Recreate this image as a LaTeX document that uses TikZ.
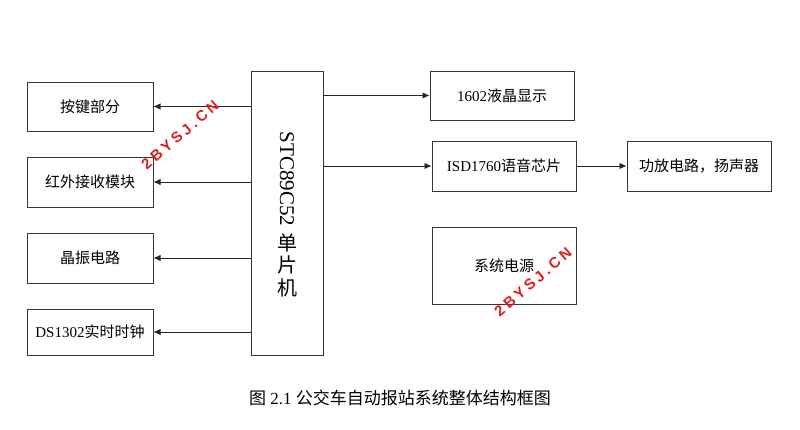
\documentclass[tikz,border=0pt]{standalone}
\usepackage{fontspec}
\setmainfont{Liberation Serif}
\newfontfamily\cjk{Noto Sans CJK SC}
\newfontfamily\wmfont[LetterSpace=22]{Liberation Sans}
\usetikzlibrary{arrows.meta}
\definecolor{boxline}{RGB}{55,55,55}
\definecolor{wmred}{RGB}{225,30,30}
\tikzset{
  blk/.style={draw=boxline,line width=1pt,rectangle,inner sep=0pt,font=\fontsize{15}{18}\selectfont},
  arr/.style={draw=black!85,line width=0.9pt,-{Latex[length=7pt,width=6.5pt]}},
  wm/.style={text=wmred,font=\wmfont\bfseries\fontsize{15}{18}\selectfont,rotate=41,inner sep=0pt}
}
\begin{document}
\begin{tikzpicture}[x=1pt,y=-1pt]
\useasboundingbox[fill=white] (0,0) rectangle (800,429);
% left blocks
\node[blk,minimum width=126pt,minimum height=49pt] (k1) at (90,106.5) {\cjk 按键部分};
\node[blk,minimum width=126pt,minimum height=50pt] (k2) at (90,182) {\cjk 红外接收模块};
\node[blk,minimum width=126pt,minimum height=50pt] (k3) at (90,258) {\cjk 晶振电路};
\node[blk,minimum width=126pt,minimum height=46pt] (k4) at (90,332) {DS1302{\cjk 实时时钟}};
% MCU
\node[blk,minimum width=72pt,minimum height=284pt] (mcu) at (287,213) {};
\node[rotate=-90,inner sep=0pt,font=\fontsize{21}{24}\selectfont] (mcut) at (287,179) {STC89C52};
\node[align=center,inner sep=0pt,font=\cjk\fontsize{20}{22.5}\selectfont] (mcuc) at (287,265) {单\\片\\机};
% right blocks
\node[blk,minimum width=144pt,minimum height=49pt] (lcd) at (502,95.5) {1602{\cjk 液晶显示}};
\node[blk,minimum width=144pt,minimum height=50pt] (isd) at (504,166) {ISD1760{\cjk 语音芯片}};
\node[blk,minimum width=144pt,minimum height=50pt] (amp) at (699,166) {\cjk 功放电路，扬声器};
\node[blk,minimum width=144pt,minimum height=77pt] (pwr) at (504,265.5) {\cjk 系统电源};
% connectors
\draw[arr] (k1.east -| mcu.west) -- (k1.east);
\draw[arr] (k2.east -| mcu.west) -- (k2.east);
\draw[arr] (k3.east -| mcu.west) -- (k3.east);
\draw[arr] (k4.east -| mcu.west) -- (k4.east);
\draw[arr] (lcd.west -| mcu.east) -- (lcd.west);
\draw[arr] (isd.west -| mcu.east) -- (isd.west);
\draw[arr] (isd.east) -- (amp.west);
% caption
\node[inner sep=0pt,font=\fontsize{17}{20}\selectfont] (cap) at (400,398) {{\cjk 图} 2.1 {\cjk 公交车自动报站系统整体结构框图}};
% watermarks
\node[wm] (wm1) at (180,135) {2BYSJ.CN};
\node[wm] (wm2) at (533,282) {2BYSJ.CN};
\end{tikzpicture}
\end{document}
